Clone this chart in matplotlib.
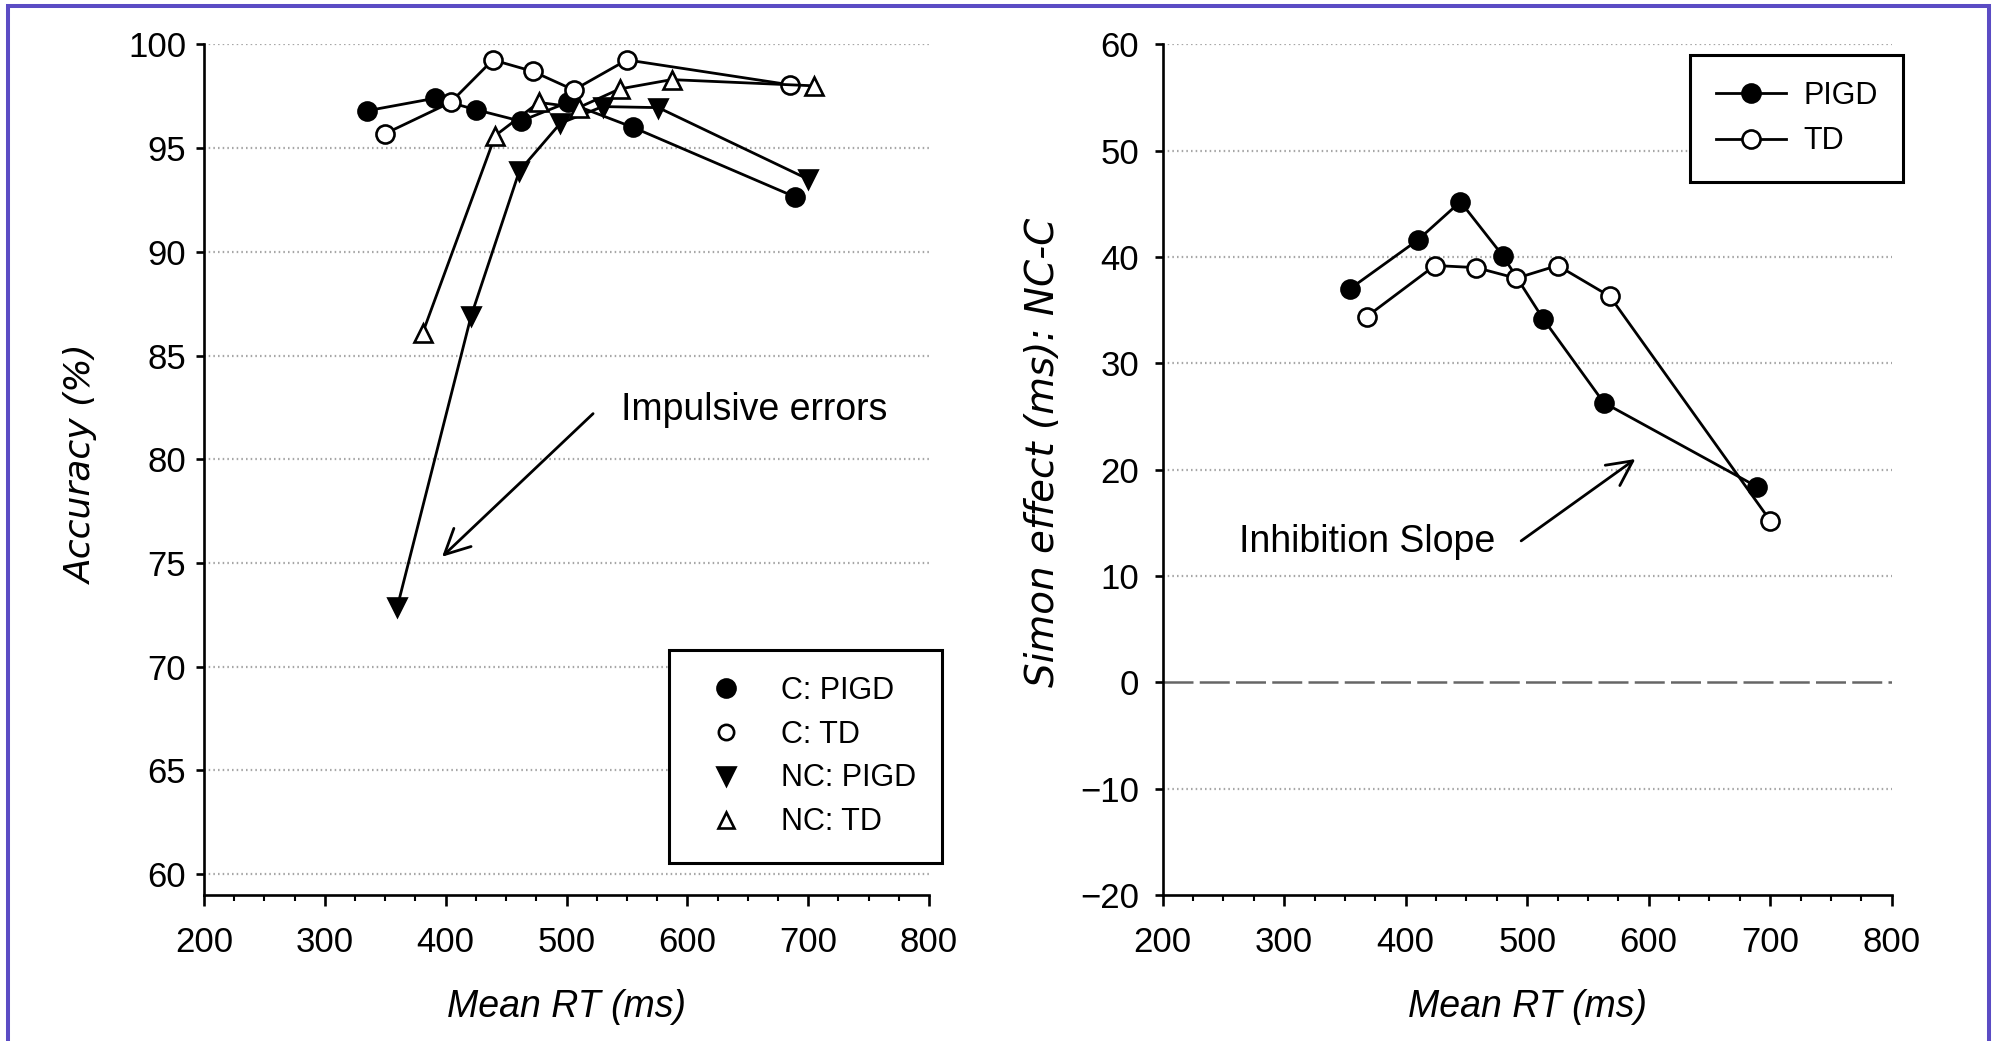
import matplotlib
matplotlib.use("Agg")
import matplotlib.pyplot as plt
from matplotlib.lines import Line2D

plt.rcParams['font.family'] = ['Liberation Sans', 'DejaVu Sans']

# left panel: accuracy vs mean RT (7 RT bins)
rt_c_pigd = [335, 391, 425, 462, 501, 555, 689]
acc_c_pigd = [96.8, 97.4, 96.85, 96.3, 97.2, 96.0, 92.65]
rt_c_td = [350, 404, 439, 472, 506, 550, 685]
acc_c_td = [95.7, 97.2, 99.25, 98.7, 97.8, 99.25, 98.05]
rt_nc_pigd = [360, 421, 461, 495, 530, 576, 700]
acc_nc_pigd = [72.9, 86.9, 93.9, 96.2, 97.0, 96.95, 93.5]
rt_nc_td = [381, 441, 477, 510, 544, 587, 705]
acc_nc_td = [86.1, 95.6, 97.2, 96.95, 97.85, 98.3, 98.0]

# right panel: Simon effect vs mean RT
rt_pigd = [354, 410, 445, 480, 513, 563, 689]
simon_pigd = [37.0, 41.6, 45.2, 40.1, 34.2, 26.3, 18.4]
rt_td = [368, 424, 458, 491, 525, 568, 700]
simon_td = [34.4, 39.2, 39.0, 38.0, 39.2, 36.3, 15.2]

fig = plt.figure(figsize=(19.93, 10.41), dpi=100)
ax1 = fig.add_axes([0.1024, 0.1403, 0.3637, 0.8171])
ax2 = fig.add_axes([0.5834, 0.1403, 0.3658, 0.8171])


def style(ax, yticks, ylim, ypad):
    for s in ['top', 'right']:
        ax.spines[s].set_visible(False)
    for s in ['left', 'bottom']:
        ax.spines[s].set_linewidth(1.9)
    ax.set_xlim(200, 800)
    ax.set_xticks(range(200, 801, 100))
    ax.set_xticks(range(200, 801, 25), minor=True)
    ax.set_ylim(*ylim)
    ax.set_yticks(yticks)
    ax.tick_params(axis='x', which='major', length=8, width=1.9, pad=14, labelsize=25)
    ax.tick_params(axis='x', which='minor', length=4.5, width=1.5)
    ax.tick_params(axis='y', length=6, width=1.9, pad=ypad, labelsize=25)
    for v in yticks:
        if v == 0:
            ax.axhline(0, color='0.4', lw=1.8, ls=(0, (12, 2.5)), zorder=1)
        elif v > ylim[0]:
            ax.axhline(v, color='0.65', lw=1.6, ls=(0, (0.7, 1.4)), zorder=1)
    ax.set_xlabel('Mean RT (ms)', fontsize=27, style='italic')
    ax.xaxis.set_label_coords(0.5, -0.132)
    ax.xaxis.label.set_va('center')


style(ax1, list(range(60, 101, 5)), (59, 100), 7)
style(ax2, list(range(-20, 61, 10)), (-20, 60), 11)

kw = dict(color='black', lw=2.0, ms=13, mew=1.9, zorder=3)
ax1.plot(rt_c_pigd, acc_c_pigd, marker='o', mfc='black', mec='black', **kw)
ax1.plot(rt_c_td, acc_c_td, marker='o', mfc='white', mec='black', **kw)
ax1.plot(rt_nc_pigd, acc_nc_pigd, marker='v', mfc='black', mec='black', **kw)
ax1.plot(rt_nc_td, acc_nc_td, marker='^', mfc='white', mec='black', **kw)

ax1.set_ylabel('Accuracy (%)', fontsize=26, style='italic', family='DejaVu Sans')
ax1.yaxis.set_label_coords(-0.145, 0.506)

ax1.annotate('', xy=(397, 75.3), xytext=(522, 82.2),
             arrowprops=dict(arrowstyle='->,head_length=0.6,head_width=0.3',
                             lw=2.0, color='black', mutation_scale=30,
                             shrinkA=0, shrinkB=0))
ax1.text(545, 81.9, 'Impulsive errors', fontsize=27, va='baseline')

handles = [
    Line2D([], [], ls='none', marker='o', ms=13, mfc='black', mec='black', mew=1.9, label='C: PIGD'),
    Line2D([], [], ls='none', marker='o', ms=11, mfc='white', mec='black', mew=1.9, label='C: TD'),
    Line2D([], [], ls='none', marker='v', ms=13, mfc='black', mec='black', mew=1.9, label='NC: PIGD'),
    Line2D([], [], ls='none', marker='^', ms=12, mfc='white', mec='black', mew=1.9, label='NC: TD'),
]
leg1 = ax1.legend(handles=handles, loc='upper left',
                  bbox_to_anchor=(669 / 1993, 1 - 650 / 1041),
                  bbox_transform=fig.transFigure, borderaxespad=0,
                  fancybox=False, edgecolor='black', framealpha=1,
                  fontsize=22, borderpad=0.85, labelspacing=0.45,
                  handlelength=2.0, handletextpad=0.8)
leg1.get_frame().set_linewidth(2.2)

l1, = ax2.plot(rt_pigd, simon_pigd, marker='o', mfc='black', mec='black', label='PIGD', **kw)
l2, = ax2.plot(rt_td, simon_td, marker='o', mfc='white', mec='black', label='TD', **kw)

ax2.set_ylabel('Simon effect (ms): NC-C', fontsize=28, style='italic', family='DejaVu Sans')
ax2.yaxis.set_label_coords(-0.138, 0.52)

ax2.annotate('', xy=(589, 21.0), xytext=(495, 13.3),
             arrowprops=dict(arrowstyle='->,head_length=0.6,head_width=0.3',
                             lw=2.0, color='black', mutation_scale=30,
                             shrinkA=0, shrinkB=0))
ax2.text(263, 12.3, 'Inhibition Slope', fontsize=27, va='baseline')

leg2 = ax2.legend(handles=[l1, l2], loc='upper left',
                  bbox_to_anchor=(1690 / 1993, 1 - 55 / 1041),
                  bbox_transform=fig.transFigure, borderaxespad=0,
                  fancybox=False, edgecolor='black', framealpha=1,
                  fontsize=22, borderpad=0.85, labelspacing=0.5,
                  handlelength=2.3, handletextpad=0.55)
leg2.get_frame().set_linewidth(2.2)

# purple frame (open at the bottom)
border = '#5b4cc4'
x0, x1, yt = 8 / 1993, 1989 / 1993, 1 - 6 / 1041
fig.add_artist(Line2D([x0, x0, x1, x1], [0, yt, yt, 0], color=border, lw=2.9,
                      transform=fig.transFigure, solid_joinstyle='miter'))

fig.savefig('out.png', dpi=100)
